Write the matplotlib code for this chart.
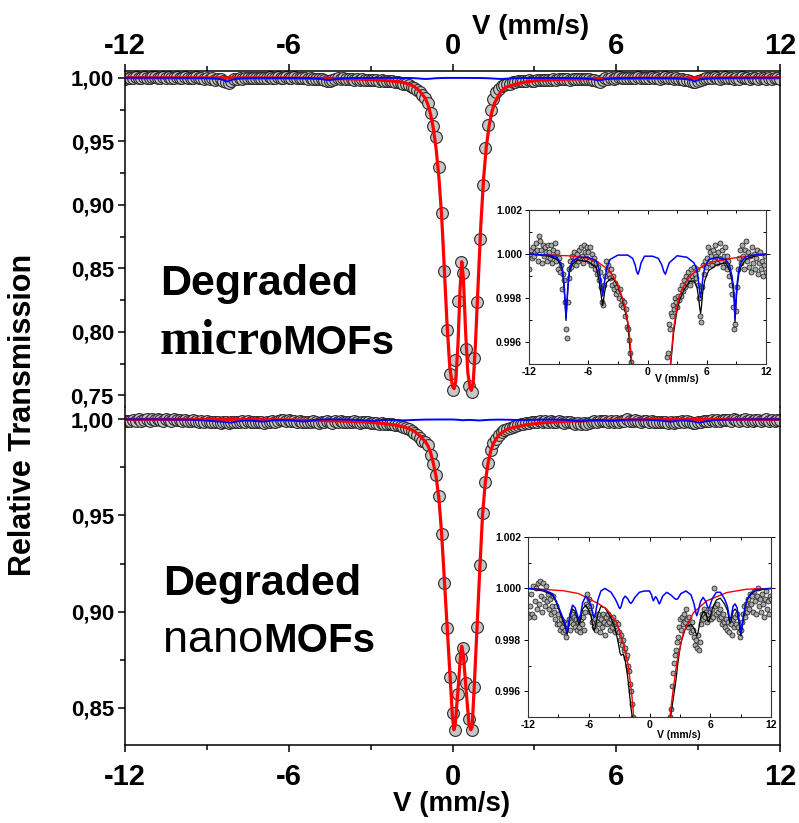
import numpy as np
import matplotlib
matplotlib.use("Agg")
import matplotlib.pyplot as plt
from matplotlib.ticker import MultipleLocator, FuncFormatter, FormatStrFormatter

plt.rcParams['font.family'] = ['Liberation Sans', 'DejaVu Sans']
plt.rcParams['font.weight'] = 'bold'
plt.rcParams['axes.linewidth'] = 1.1
plt.rcParams['axes.unicode_minus'] = False

# velocity channels (mm/s), 0.1 mm/s apart
v_start, v_stop, n_channels = -12.0, 12.0, 241
velocity = np.linspace(v_start, v_stop, n_channels)

# relative transmission, degraded microMOFs (one row = 1 mm/s)
micro_T = [
    0.9993, 1.0000, 1.0002, 0.9998, 1.0003, 0.9999, 1.0001, 1.0005, 1.0002, 0.9997,
    1.0008, 1.0006, 1.0002, 0.9996, 1.0004, 0.9999, 1.0003, 1.0001, 0.9997, 1.0004,
    1.0001, 0.9998, 1.0004, 0.9996, 1.0002, 0.9999, 1.0005, 0.9997, 1.0001, 0.9993,
    0.9998, 0.9992, 0.9995, 0.9984, 0.9991, 0.9988, 0.9978, 0.9966, 0.9962, 0.9978,
    0.9989, 0.9993, 0.9997, 0.9994, 0.9999, 0.9996, 1.0001, 0.9998, 0.9995, 1.0000,
    0.9997, 1.0002, 0.9998, 1.0003, 0.9999, 0.9996, 1.0004, 1.0001, 0.9998, 1.0003,
    1.0001, 0.9997, 1.0003, 0.9995, 1.0000, 0.9996, 0.9998, 0.9993, 0.9996, 0.9991,
    0.9994, 0.9988, 0.9992, 0.9985, 0.9978, 0.9977, 0.9986, 0.9990, 0.9997, 0.9993,
    0.9995, 0.9991, 0.9989, 0.9993, 0.9986, 0.9990, 0.9984, 0.9987, 0.9982, 0.9985,
    0.9983, 0.9980, 0.9984, 0.9977, 0.9979, 0.9976, 0.9978, 0.9972, 0.9975, 0.9967,
    0.9966, 0.9961, 0.9955, 0.9951, 0.9940, 0.9930, 0.9918, 0.9904, 0.9885, 0.9862,
    0.9838, 0.9800, 0.9720, 0.9620, 0.9530, 0.9300, 0.8939, 0.8481, 0.8013, 0.7671,
    0.7545, 0.7776, 0.8240, 0.8550, 0.8461, 0.7861, 0.7576, 0.7529, 0.7790, 0.8236,
    0.8729, 0.9152, 0.9447, 0.9626, 0.9750, 0.9835, 0.9885, 0.9915, 0.9935, 0.9947,
    0.9953, 0.9955, 0.9968, 0.9966, 0.9973, 0.9972, 0.9977, 0.9975, 0.9980, 0.9978,
    0.9976, 0.9981, 0.9979, 0.9984, 0.9981, 0.9986, 0.9983, 0.9988, 0.9985, 0.9990,
    0.9987, 0.9992, 0.9989, 0.9986, 0.9993, 0.9990, 0.9988, 0.9994, 0.9991, 0.9989,
    0.9993, 0.9986, 0.9980, 0.9972, 0.9969, 0.9985, 0.9995, 0.9991, 0.9997, 0.9994,
    0.9998, 1.0003, 0.9996, 1.0001, 0.9999, 0.9995, 1.0002, 0.9997, 1.0004, 0.9999,
    0.9996, 1.0001, 0.9998, 1.0005, 0.9997, 1.0002, 0.9994, 0.9999, 1.0003, 0.9996,
    0.9999, 0.9993, 0.9997, 0.9990, 0.9994, 0.9986, 0.9982, 0.9976, 0.9966, 0.9968,
    0.9974, 0.9985, 0.9993, 0.9998, 1.0002, 0.9996, 1.0004, 0.9999, 0.9993, 1.0002,
    1.0006, 0.9997, 1.0001, 0.9994, 0.9999, 0.9992, 1.0003, 0.9996, 1.0000, 0.9993,
    0.9998, 1.0002, 0.9991, 0.9996, 1.0001, 0.9993, 0.9997, 0.9990, 0.9995, 0.9999,
    0.9992]

# relative transmission, degraded nanoMOFs
nano_T = [
    0.9990, 0.9989, 0.9993, 0.9998, 0.9990, 1.0001, 0.9989, 0.9995, 1.0000, 0.9992,
    1.0002, 0.9994, 1.0003, 0.9997, 0.9991, 1.0002, 0.9996, 0.9993, 1.0001, 0.9995,
    0.9998, 0.9992, 0.9996, 0.9990, 0.9993, 0.9997, 0.9991, 0.9988, 0.9993, 0.9986,
    0.9990, 0.9986, 0.9984, 0.9988, 0.9985, 0.9983, 0.9987, 0.9984, 0.9981, 0.9986,
    0.9988, 0.9984, 0.9987, 0.9990, 0.9986, 0.9989, 0.9985, 0.9988, 0.9984, 0.9987,
    0.9985, 0.9983, 0.9988, 0.9986, 0.9989, 0.9984, 0.9991, 0.9994, 0.9998, 0.9993,
    0.9996, 0.9991, 0.9993, 0.9987, 0.9989, 0.9985, 0.9988, 0.9984, 0.9987, 0.9990,
    0.9986, 0.9983, 0.9988, 0.9985, 0.9990, 0.9987, 0.9982, 0.9989, 0.9986, 0.9990,
    0.9987, 0.9984, 0.9988, 0.9985, 0.9989, 0.9986, 0.9983, 0.9987, 0.9984, 0.9986,
    0.9983, 0.9980, 0.9982, 0.9978, 0.9980, 0.9976, 0.9977, 0.9973, 0.9974, 0.9970,
    0.9968, 0.9963, 0.9960, 0.9955, 0.9950, 0.9941, 0.9930, 0.9918, 0.9902, 0.9885,
    0.9880, 0.9868, 0.9815, 0.9768, 0.9712, 0.9600, 0.9403, 0.9150, 0.8915, 0.8660,
    0.8470, 0.8385, 0.8570, 0.8760, 0.8810, 0.8630, 0.8440, 0.8385, 0.8610, 0.8920,
    0.9240, 0.9511, 0.9676, 0.9771, 0.9840, 0.9875, 0.9900, 0.9918, 0.9932, 0.9944,
    0.9950, 0.9953, 0.9962, 0.9967, 0.9971, 0.9974, 0.9976, 0.9979, 0.9981, 0.9985,
    0.9988, 0.9984, 0.9989, 0.9986, 0.9990, 0.9987, 0.9992, 0.9988, 0.9985, 0.9989,
    0.9986, 0.9983, 0.9987, 0.9984, 0.9981, 0.9978, 0.9980, 0.9977, 0.9982, 0.9976,
    0.9979, 0.9986, 0.9990, 0.9988, 0.9992, 0.9989, 0.9991, 0.9987, 0.9990, 0.9988,
    0.9991, 0.9988, 0.9992, 0.9989, 1.0000, 0.9993, 0.9990, 0.9994, 0.9991, 0.9988,
    0.9992, 0.9989, 0.9986, 0.9990, 0.9987, 0.9985, 0.9988, 0.9984, 0.9987, 0.9983,
    0.9986, 0.9982, 0.9988, 0.9985, 0.9989, 0.9986, 0.9990, 0.9985, 0.9983, 0.9981,
    0.9984, 0.9987, 0.9990, 0.9993, 0.9989, 0.9994, 0.9991, 0.9996, 0.9992, 0.9998,
    0.9994, 0.9997, 0.9991, 0.9999, 0.9995, 0.9990, 0.9997, 1.0000, 0.9993, 0.9996,
    0.9991, 0.9998, 0.9994, 0.9989, 0.9996, 0.9999, 0.9992, 0.9995, 0.9990, 0.9997,
    0.9996]

# fitted doublet (red), sextet (blue) and total (black) - microMOFs
micro_red_v = [-12, -10, -8, -7, -6, -5, -4, -3.5, -3, -2.5,
               -2.2, -1.9, -1.6, -1.4, -1.2, -1.0, -0.9, -0.8, -0.7, -0.6,
               -0.5, -0.4, -0.3, -0.2, -0.1, 0.0, 0.06, 0.12, 0.2, 0.28,
               0.34, 0.4, 0.48, 0.56, 0.64, 0.69, 0.76, 0.84, 0.94, 1.04,
               1.14, 1.24, 1.34, 1.44, 1.54, 1.74, 1.94, 2.34, 2.64, 2.94,
               3.24, 3.74, 4.24, 4.74, 5.74, 6.74, 8.74, 10.74, 12]
micro_red_t = [1.0, 0.99995, 0.99992, 0.99988, 0.9998, 0.99962, 0.9993, 0.999, 0.9986, 0.99795,
               0.9974, 0.9967, 0.9951, 0.993, 0.9895, 0.984, 0.979, 0.971, 0.96, 0.944,
               0.922, 0.892, 0.85, 0.806, 0.772, 0.757, 0.7553, 0.761, 0.79, 0.835,
               0.8552, 0.842, 0.8, 0.768, 0.756, 0.7539, 0.76, 0.79, 0.838, 0.885,
               0.921, 0.946, 0.962, 0.973, 0.98, 0.988, 0.9925, 0.9951, 0.9966, 0.9975,
               0.9981, 0.9986, 0.99895, 0.99918, 0.9995, 0.99965, 0.99982, 0.99993, 1.0]

micro_blue_v = [-12, -10, -9.2, -8.8, -8.6, -8.45, -8.35, -8.25, -8.15, -8.05,
                -7.9, -7.6, -7.0, -6.0, -5.2, -4.9, -4.75, -4.62, -4.54, -4.46,
                -4.33, -4.15, -3.8, -3.0, -2.0, -1.5, -1.25, -1.1, -0.96, -0.8,
                -0.65, -0.3, 0.5, 1.1, 1.45, 1.65, 1.81, 1.97, 2.2, 3.0,
                4.0, 4.7, 5.0, 5.18, 5.3, 5.38, 5.46, 5.6, 5.8, 6.2,
                7.0, 7.9, 8.3, 8.55, 8.7, 8.8, 8.86, 8.96, 9.06, 9.25,
                9.5, 10, 11, 12]
micro_blue_t = [1.0, 0.99995, 0.99985, 0.9996, 0.9993, 0.9986, 0.9979, 0.99708, 0.9979, 0.9986,
                0.9993, 0.99968, 0.99985, 0.99985, 0.9997, 0.9993, 0.9988, 0.9984, 0.99809, 0.9984,
                0.9988, 0.9993, 0.99975, 0.99995, 0.99995, 0.9998, 0.9995, 0.9992, 0.99908, 0.9993,
                0.9996, 0.9999, 0.9999, 0.9998, 0.9995, 0.9992, 0.99908, 0.9993, 0.9996, 0.99992,
                0.99985, 0.9996, 0.9993, 0.9987, 0.9982, 0.99803, 0.9983, 0.9989, 0.9994, 0.99975,
                0.99985, 0.99975, 0.9995, 0.999, 0.9985, 0.9979, 0.99708, 0.9979, 0.9986, 0.9993,
                0.99965, 0.99988, 0.99997, 1.0]

micro_black_v = [-12, -10, -9.2, -8.8, -8.6, -8.45, -8.35, -8.25, -8.15, -8.05,
                 -7.9, -7.6, -7.0, -6.0, -5.2, -4.9, -4.75, -4.62, -4.54, -4.46,
                 -4.33, -4.15, -3.8, -3.5, -3.0, -2.5, -2.0, -1.6, -1.4, -1.2,
                 2.1, 2.34, 2.64, 2.94, 3.24, 3.74, 4.24, 4.7, 5.0, 5.18,
                 5.3, 5.38, 5.46, 5.6, 5.8, 6.2, 7.0, 7.9, 8.3, 8.55,
                 8.7, 8.8, 8.86, 8.96, 9.06, 9.25, 9.5, 10, 11, 12]
micro_black_t = [1.0, 0.9999, 0.99977, 0.99952, 0.9992, 0.9985, 0.9978, 0.99698, 0.9978, 0.9985,
                 0.9992, 0.99955, 0.99973, 0.99965, 0.9994, 0.9988, 0.9983, 0.9979, 0.99765, 0.9979,
                 0.9983, 0.9987, 0.99885, 0.9989, 0.99855, 0.9979, 0.99685, 0.9948, 0.9925, 0.9885,
                 0.9935, 0.99495, 0.9964, 0.9973, 0.9979, 0.9984, 0.99875, 0.99878, 0.9985, 0.998,
                 0.9975, 0.9973, 0.9976, 0.9983, 0.9988, 0.99925, 0.9995, 0.9996, 0.9993, 0.9988,
                 0.9983, 0.9977, 0.9969, 0.9977, 0.9984, 0.9991, 0.99945, 0.99978, 0.99992, 0.99997]

# fitted doublet, sextet and total - nanoMOFs
nano_red_v = [-12, -10, -8.5, -7, -5.9, -5, -4.24, -3.25, -2.6, -2.1,
              -1.77, -1.6, -1.4, -1.2, -1.0, -0.9, -0.8, -0.7, -0.6, -0.5,
              -0.4, -0.3, -0.2, -0.1, 0.0, 0.05, 0.1, 0.2, 0.3, 0.34,
              0.4, 0.5, 0.6, 0.67, 0.72, 0.8, 0.9, 1.0, 1.1, 1.2,
              1.3, 1.4, 1.5, 1.7, 2.03, 2.3, 2.69, 3.35, 4.34, 5.66,
              7.64, 9.6, 12]
nano_red_t = [1.0, 0.99995, 0.99991, 0.9998, 0.99958, 0.9994, 0.9992, 0.99868, 0.9979, 0.997,
              0.99595, 0.9952, 0.9938, 0.9915, 0.9885, 0.9862, 0.9825, 0.977, 0.970, 0.959,
              0.941, 0.917, 0.893, 0.869, 0.845, 0.8385, 0.841, 0.859, 0.878, 0.882,
              0.877, 0.859, 0.842, 0.8385, 0.840, 0.862, 0.892, 0.922, 0.950, 0.967,
              0.977, 0.9835, 0.9875, 0.992, 0.99504, 0.99595, 0.9971, 0.99829, 0.99906, 0.99952,
              0.99984, 0.99997, 1.0]

nano_blue_v = [-12, -10.5, -9.6, -9.2, -8.9, -8.6, -8.4, -8.25, -8.14, -8.0,
               -7.85, -7.6, -7.35, -7.15, -6.98, -6.8, -6.6, -6.3, -6.0, -5.75,
               -5.6, -5.46, -5.3, -5.1, -4.8, -4.4, -3.8, -3.4, -3.15, -3.0,
               -2.92, -2.8, -2.6, -2.4, -2.15, -1.95, -1.83, -1.7, -1.45, -1.0,
               -0.5, 0.0, 0.2, 0.3, 0.38, 0.48, 0.6, 0.75, 0.9, 0.97,
               1.05, 1.3, 1.7, 2.1, 2.45, 2.6, 2.69, 2.8, 3.1, 3.6,
               4.1, 4.4, 4.55, 4.67, 4.8, 5.05, 5.3, 5.55, 5.72, 5.83,
               5.95, 6.2, 6.6, 7.0, 7.4, 7.7, 7.88, 7.97, 8.07, 8.25,
               8.45, 8.65, 8.85, 8.95, 9.03, 9.12, 9.3, 9.6, 10.0, 10.5,
               12]
nano_blue_t = [1.0, 0.99995, 0.9998, 0.9995, 0.9992, 0.9989, 0.9987, 0.9985, 0.99829, 0.9986,
               0.999, 0.99935, 0.99925, 0.999, 0.99878, 0.999, 0.99945, 0.9997, 0.99955, 0.9993,
               0.999, 0.99887, 0.9991, 0.99955, 0.9999, 1.0, 0.99985, 0.9996, 0.9994, 0.99925,
               0.99922, 0.9993, 0.9996, 0.9997, 0.9996, 0.99945, 0.99942, 0.99948, 0.99965, 0.99985,
               0.9999, 0.9999, 0.99975, 0.9996, 0.99952, 0.9996, 0.99968, 0.9996, 0.99945, 0.9994,
               0.99945, 0.9997, 0.99985, 0.99975, 0.99962, 0.99958, 0.99958, 0.9996, 0.9998, 0.9999,
               0.99975, 0.9994, 0.9991, 0.99894, 0.9991, 0.9995, 0.99965, 0.9995, 0.9993, 0.9992,
               0.9993, 0.9996, 0.99985, 0.99985, 0.9996, 0.9993, 0.9989, 0.9988, 0.9989, 0.9993,
               0.9994, 0.99925, 0.9988, 0.9985, 0.99826, 0.9985, 0.999, 0.99955, 0.9998, 0.99995,
               1.0]

nano_black_v = [-12, -10.5, -9.6, -9.2, -8.9, -8.6, -8.4, -8.25, -8.14, -8.0,
                -7.85, -7.6, -7.35, -7.15, -6.98, -6.8, -6.6, -6.3, -6.0, -5.75,
                -5.6, -5.46, -5.3, -5.1, -4.8, -4.4, -3.8, -3.4, -3.15, -3.0,
                -2.92, -2.8, -2.6, -2.4, -2.15, -1.95, -1.83, -1.7, -1.45, -1.0,
                2.0, 2.1, 2.45, 2.6, 2.69, 2.8, 3.1, 3.6, 4.1, 4.4,
                4.55, 4.67, 4.8, 5.05, 5.3, 5.55, 5.72, 5.83, 5.95, 6.2,
                6.6, 7.0, 7.4, 7.7, 7.88, 7.97, 8.07, 8.25, 8.45, 8.65,
                8.85, 8.95, 9.03, 9.12, 9.3, 9.6, 10.0, 10.5, 12]
nano_black_t = [1.0, 0.9999, 0.99975, 0.99945, 0.99912, 0.9988, 0.9986, 0.9984, 0.9982, 0.9985,
                0.9989, 0.9992, 0.9991, 0.99885, 0.9986, 0.9988, 0.9992, 0.99935, 0.99915, 0.9989,
                0.9985, 0.99835, 0.9986, 0.999, 0.9993, 0.99925, 0.99885, 0.99845, 0.998, 0.9977,
                0.9975, 0.9974, 0.99745, 0.9972, 0.99655, 0.9958, 0.99535, 0.995, 0.993, 0.988,
                0.9949, 0.99505, 0.996, 0.9964, 0.9967, 0.9971, 0.9979, 0.9985, 0.9986, 0.99845,
                0.9983, 0.99815, 0.9983, 0.99885, 0.9991, 0.99905, 0.9988, 0.9987, 0.9988, 0.9992,
                0.99955, 0.99962, 0.9994, 0.99915, 0.99875, 0.99865, 0.99875, 0.9991, 0.9992, 0.9991,
                0.99865, 0.99838, 0.99816, 0.9984, 0.9989, 0.99952, 0.99977, 0.99992, 1.0]

x_ticks = [-12, -6, 0, 6, 12]
W, H = 799, 823


def px_box(left, top, right, bottom):
    # pixel box -> figure fraction rect
    return [left / W, 1 - bottom / H, (right - left) / W, (bottom - top) / H]


comma = FuncFormatter(lambda y, pos: f"{y:.2f}".replace('.', ','))

fig = plt.figure(figsize=(W / 100, H / 100), dpi=100)
ax_top = fig.add_axes(px_box(125, 71, 780, 407))
ax_bot = fig.add_axes(px_box(125, 407, 780, 745))

panels = [(ax_top, micro_T, micro_red_v, micro_red_t, micro_blue_v, micro_blue_t, (0.7408, 1.00535)),
          (ax_bot, nano_T, nano_red_v, nano_red_t, nano_blue_v, nano_blue_t, (0.8306, 1.0064))]
for ax, T, rv, rt, bv, bt, ylim in panels:
    ax.plot(velocity, T, 'o', ms=8.5, mfc='#c6c6c6', mec='#2a2a2a', mew=0.8, zorder=2)
    ax.plot(rv, rt, color='#ff0000', lw=2.3, zorder=3)
    ax.plot(bv, bt, color='#0000ff', lw=1.4, zorder=4)
    ax.set_xlim(-12, 12)
    ax.set_ylim(*ylim)
    ax.set_xticks(x_ticks)
    ax.xaxis.set_minor_locator(MultipleLocator(3))
    ax.yaxis.set_major_locator(MultipleLocator(0.05))
    ax.yaxis.set_minor_locator(MultipleLocator(0.025))
    ax.yaxis.set_major_formatter(comma)
    ax.tick_params(axis='y', which='both', direction='out', right=False, labelsize=16, width=1.1, pad=3)
    ax.tick_params(axis='y', which='major', length=5)
    ax.tick_params(axis='y', which='minor', length=3.5)
    ax.tick_params(axis='x', which='both', width=1.1, labelsize=21, direction='out')
    ax.tick_params(axis='x', which='major', length=5)
    ax.tick_params(axis='x', which='minor', length=3.5)
    for lab in ax.get_xticklabels() + ax.get_yticklabels():
        lab.set_fontweight('bold')

ax_top.spines['bottom'].set_visible(False)
ax_top.tick_params(axis='x', which='both', bottom=False, labelbottom=False, top=True, labeltop=True, pad=3)
ax_bot.spines['top'].set_visible(False)
ax_bot.tick_params(axis='x', which='both', top=False, bottom=True, labelbottom=True, pad=8)

fig.text(531 / W, 1 - 27 / H, 'V (mm/s)', fontsize=20, fontweight='bold', ha='center', va='center')
fig.text(452 / W, 1 - 804 / H, 'V (mm/s)', fontsize=20, fontweight='bold', ha='center', va='center')
fig.text(23 / W, 1 - 415 / H, 'Relative Transmission', fontsize=22, fontweight='bold',
         rotation=90, ha='center', va='center')

# sample names
fig.text(160 / W, 1 - 295 / H, 'Degraded', fontsize=31, fontweight='bold', ha='left', va='baseline')
fig.text(160 / W, 1 - 354 / H, 'micro', fontsize=36, fontweight='bold',
         family=['Liberation Serif', 'DejaVu Serif'], ha='left', va='baseline')
fig.text(282 / W, 1 - 354 / H, 'MOFs', fontsize=29, fontweight='bold', ha='left', va='baseline')
fig.text(163 / W, 1 - 595 / H, 'Degraded', fontsize=31, fontweight='bold', ha='left', va='baseline')
fig.text(163 / W, 1 - 652 / H, 'nano', fontsize=32.5, fontweight='normal', ha='left', va='baseline')
fig.text(263 / W, 1 - 652 / H, 'MOFs', fontsize=29, fontweight='bold', ha='left', va='baseline')

# insets: zoom on the baseline
insets = [(px_box(529, 210, 766, 364), micro_T, micro_red_v, micro_red_t, micro_blue_v, micro_blue_t,
           micro_black_v, micro_black_t),
          (px_box(528, 537, 771, 717), nano_T, nano_red_v, nano_red_t, nano_blue_v, nano_blue_t,
           nano_black_v, nano_black_t)]
for rect, T, rv, rt, bv, bt, kv, kt in insets:
    ins = fig.add_axes(rect)
    ins.plot(velocity, T, 'o', ms=3.6, mfc='#a9a9a9', mec='#111111', mew=0.5, zorder=2)
    ins.plot(kv, kt, color='black', lw=0.9, zorder=3)
    ins.plot(rv, rt, color='#ff0000', lw=1.0, zorder=4)
    ins.plot(bv, bt, color='#0000ff', lw=1.1, zorder=5)
    ins.set_xlim(-12, 12)
    ins.set_ylim(0.995, 1.002)
    ins.set_xticks(x_ticks)
    ins.xaxis.set_minor_locator(MultipleLocator(3))
    ins.yaxis.set_major_locator(MultipleLocator(0.002))
    ins.yaxis.set_minor_locator(MultipleLocator(0.001))
    ins.yaxis.set_major_formatter(FormatStrFormatter('%.3f'))
    for sp in ins.spines.values():
        sp.set_linewidth(0.8)
        sp.set_color('#333333')
    ins.tick_params(which='both', labelsize=7.5, width=0.7, pad=2, top=True, right=True, direction='in')
    ins.tick_params(which='major', length=3)
    ins.tick_params(which='minor', length=2)
    ins.tick_params(axis='y', which='major', direction='out')
    for lab in ins.get_xticklabels() + ins.get_yticklabels():
        lab.set_fontweight('bold')
    ins.text(0.622, -0.1, 'V (mm/s)', transform=ins.transAxes, fontsize=7.5, fontweight='bold',
             ha='center', va='center')

fig.savefig('out.png', dpi=100)
